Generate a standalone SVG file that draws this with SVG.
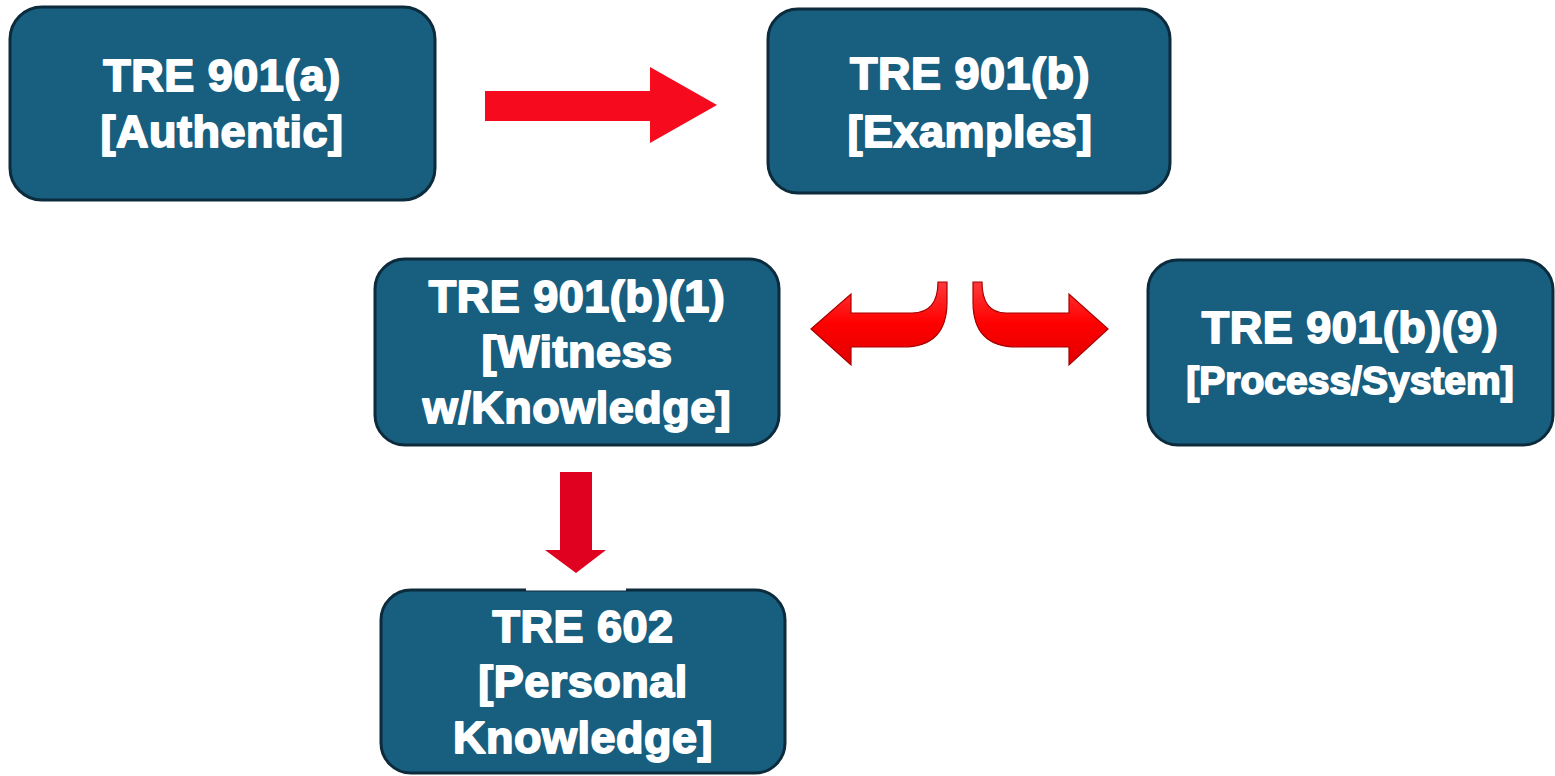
<svg xmlns="http://www.w3.org/2000/svg" width="1555" height="776" viewBox="0 0 1555 776">
<style>
.box{fill:#185e7f;stroke:#0c2b3c;stroke-width:3}
.t{font-family:"Liberation Sans",Arial,sans-serif;font-weight:700;font-size:45px;fill:#ffffff;stroke:#ffffff;stroke-width:1.8;stroke-linejoin:round;text-anchor:middle;letter-spacing:0.5px}
.s{font-size:39px;letter-spacing:0}
.red{fill:#f50a1e}
.curl{stroke:#a80000;stroke-width:1.2}
</style>
<defs>
<linearGradient id="gl" x1="0" y1="0" x2="0" y2="1">
<stop offset="0" stop-color="#ff3a3a"/>
<stop offset="0.5" stop-color="#ff0000"/>
<stop offset="1" stop-color="#e00000"/>
</linearGradient>
</defs>
<rect width="1555" height="776" fill="#ffffff"/>
<g id="connectors">
<path class="red" d="M485,91 L650,91 L650,67 L717,105 L650,143 L650,121 L485,121 Z"/>
<path class="curl" fill="url(#gl)" d="M811,329 L851,294 L851,313 L912,313 C932,313 938,300 938,282 L947,282 L947,302 C947,332 933,347 903,347 L851,347 L851,365 Z"/>
<path class="curl" fill="url(#gl)" d="M1108,329 L1069,294 L1069,313 L1006,313 C988,313 982,300 982,282 L973,282 L973,302 C973,332 987,347 1017,347 L1069,347 L1069,365 Z"/>
<path fill="#e0001f" d="M560,472 L592,472 L592,550 L606,550 L576,573 L545,550 L560,550 Z"/>
</g>
<g id="n1">
<rect class="box" x="10" y="7" width="425" height="193" rx="32"/>
<text class="t" x="222" y="91">TRE 901(a)</text>
<text class="t" x="222" y="147">[Authentic]</text>
</g>
<g id="n2">
<rect class="box" x="768" y="9" width="402" height="184" rx="30"/>
<text class="t" x="970" y="89">TRE 901(b)</text>
<text class="t" x="970" y="147">[Examples]</text>
</g>
<g id="n3">
<rect class="box" x="375" y="259" width="404" height="186" rx="30"/>
<text class="t" x="577" y="312">TRE 901(b)(1)</text>
<text class="t" x="577" y="367">[Witness</text>
<text class="t" x="577" y="423">w/Knowledge]</text>
</g>
<g id="n4">
<rect class="box" x="1148" y="260" width="405" height="185" rx="30"/>
<text class="t" x="1350" y="343">TRE 901(b)(9)</text>
<text class="t s" x="1350" y="394">[Process/System]</text>
</g>
<g id="n5">
<rect class="box" x="381" y="590" width="404" height="183" rx="30"/>
<rect x="526" y="584" width="100" height="6.5" fill="#ffffff"/>
<text class="t" x="583" y="642">TRE 602</text>
<text class="t" x="583" y="697">[Personal</text>
<text class="t" x="583" y="753">Knowledge]</text>
</g>
</svg>
